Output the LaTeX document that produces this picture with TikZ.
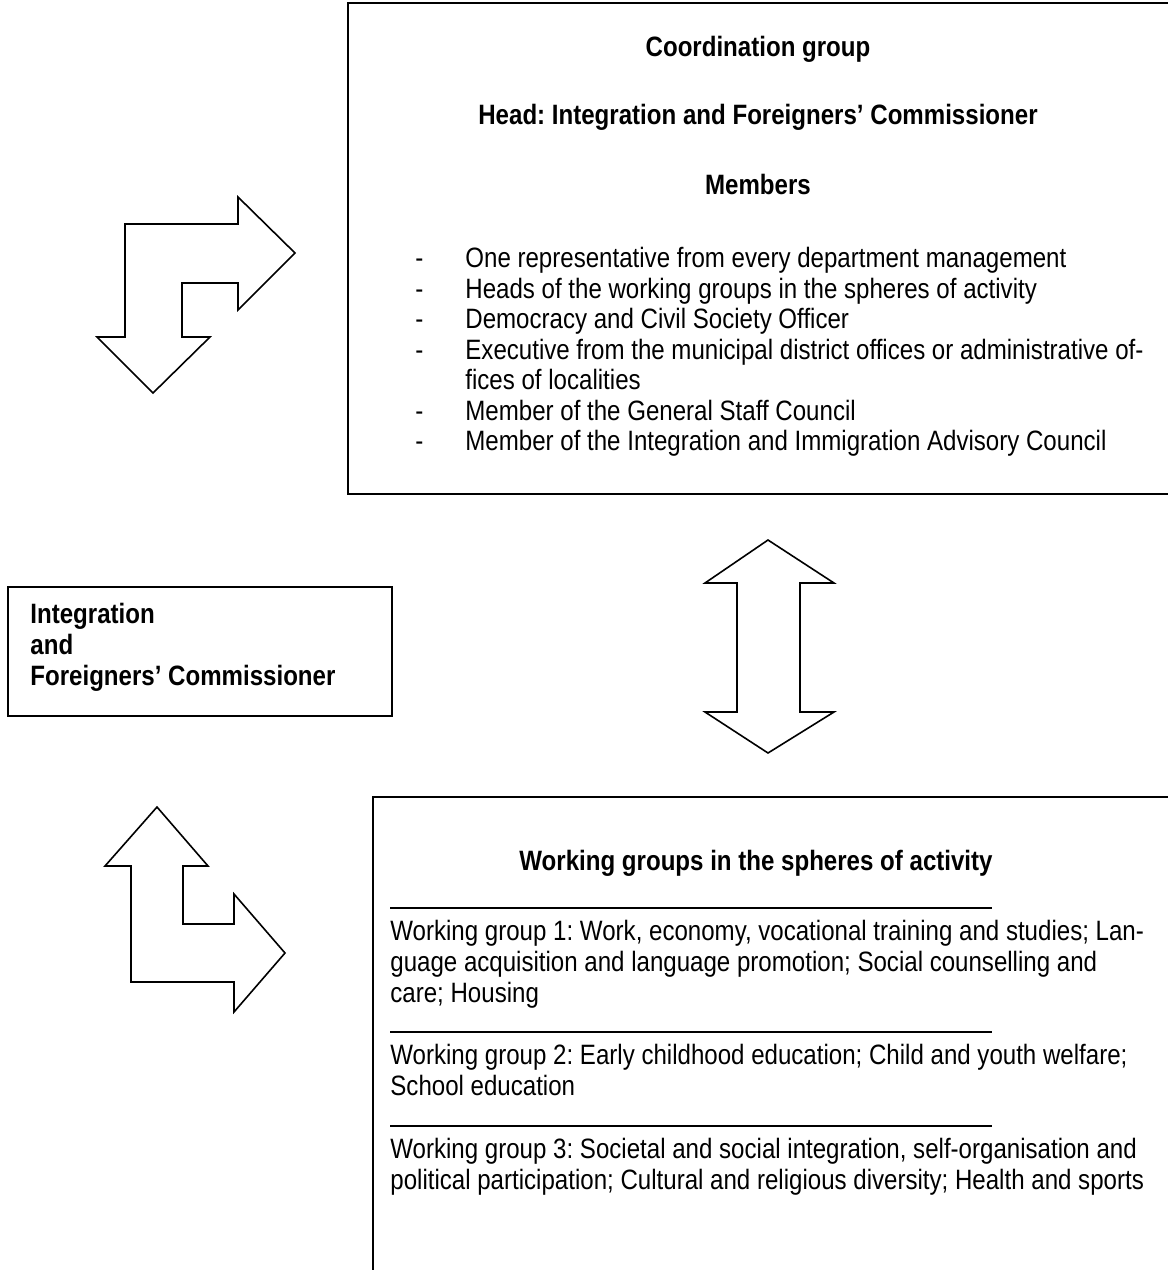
\documentclass[tikz,border=0pt]{standalone}
\usepackage{fontspec}
\setmainfont{Liberation Sans}[FakeStretch=0.86]
\frenchspacing
\begin{document}
\begin{tikzpicture}[x=0.5pt,y=-0.5pt,
  txt/.style={inner sep=0pt,anchor=base west,font=\fontsize{14}{15.25}\selectfont},
  hd/.style={inner sep=0pt,anchor=base,font=\fontsize{14}{15.25}\selectfont\bfseries},
  bold/.style={txt,font=\fontsize{14}{15.25}\selectfont\bfseries},
  boxline/.style={line width=1pt},
  blockarrow/.style={line width=0.8pt,line join=miter,fill=white},
  rule/.style={line width=0.7pt}]
\clip (0,0) rectangle (1168,1270);
\fill[white] (0,0) rectangle (1168,1270);

% top box
\draw[boxline] (1180,3) -- (348,3) -- (348,494) -- (1180,494);
\node[hd] (cg) at (758,56) {Coordination group};
\node[hd] (head) at (758,124) {Head: Integration and Foreigners’ Commissioner};
\node[hd] (mem) at (758,194) {Members};
\foreach \yy/\t [count=\i] in {267/One representative from every department management,
  298/Heads of the working groups in the spheres of activity,
  328/Democracy and Civil Society Officer,
  359/Executive from the municipal district offices or administrative of-,
  420/Member of the General Staff Council,
  450/Member of the Integration and Immigration Advisory Council}{
  \node[txt] (d\i) at (415,\yy) {-};
  \node[txt] (m\i) at (465,\yy) {\t};
}
\node[txt] (m4b) at (465,389) {fices of localities};

% left box
\draw[boxline] (8,587) rectangle (392,716);
\node[bold] (c1) at (30,623) {Integration};
\node[bold] (c2) at (30,654) {and};
\node[bold] (c3) at (30,685) {Foreigners’ Commissioner};

% bottom box
\draw[boxline] (1180,797) -- (373,797) -- (373,1280);
\node[hd] (wg) at (756,870) {Working groups in the spheres of activity};
\draw[rule] (390,908) -- (992,908);
\node[txt] (w11) at (390,940) {Working group 1: Work, economy, vocational training and studies; Lan-};
\node[txt] (w12) at (390,971) {guage acquisition and language promotion; Social counselling and};
\node[txt] (w13) at (390,1002) {care; Housing};
\draw[rule] (390,1032) -- (992,1032);
\node[txt] (w21) at (390,1064) {Working group 2: Early childhood education; Child and youth welfare;};
\node[txt] (w22) at (390,1095) {School education};
\draw[rule] (390,1126) -- (992,1126);
\node[txt] (w31) at (390,1158) {Working group 3: Societal and social integration, self-organisation and};
\node[txt] (w32) at (390,1189) {political participation; Cultural and religious diversity; Health and sports};

% arrow 1 (right / down)
\draw[blockarrow] (295,253) -- (238,197) -- (238,224) -- (125,224) -- (125,337)
  -- (97,337) -- (153,393) -- (210,337) -- (182,337) -- (182,283) -- (238,283)
  -- (238,310) -- cycle;
% arrow 2 (up / down)
\draw[blockarrow] (768,540) -- (705,583) -- (737,583) -- (737,712) -- (705,712)
  -- (768,753) -- (834,712) -- (800,712) -- (800,583) -- (834,583) -- cycle;
% arrow 3 (up / right)
\draw[blockarrow] (157,807) -- (105,866) -- (131,866) -- (131,982) -- (234,982)
  -- (234,1012) -- (285,953) -- (234,894) -- (234,924) -- (183,924) -- (183,866)
  -- (208,866) -- cycle;
\end{tikzpicture}
\end{document}
